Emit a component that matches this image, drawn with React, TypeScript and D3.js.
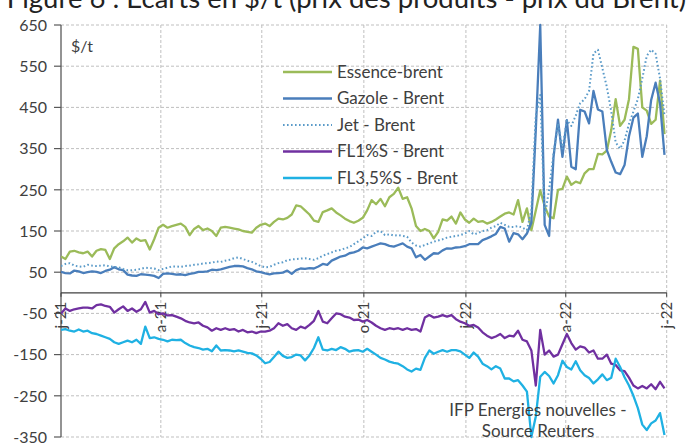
import React from "react";
import * as d3 from "d3";

// Product cracks vs Brent, $/t, one reading every 4 days from 1 Jan 2021
const START = Date.UTC(2021, 0, 1);
const STEP_DAYS = 4;
const DAY_MS = 86400000;

const essence = [
  88, 82, 100, 102, 98, 96, 100, 88, 102, 106, 104, 82, 108, 118, 125, 134, 122, 132, 126, 128, 105, 130, 158, 165, 158, 162, 165, 168, 160, 140, 155, 162, 152, 156, 150, 138, 158, 160, 158, 156, 154, 150, 148, 146, 158, 165,
  168, 162, 172, 180, 178, 182, 190, 212, 210, 200, 190, 175, 172, 196, 200, 205, 195, 188, 180, 174, 170, 175, 182, 200, 225, 215, 228, 210, 232, 240, 255, 228, 232, 205, 162, 150, 155, 150, 132, 148, 178, 175, 185, 168, 195, 178, 170,
  180, 172, 174, 168, 172, 178, 185, 192, 195, 190, 225, 172, 205, 152, 200, 249, 210, 185, 181, 250, 252, 282, 262, 270, 266, 290, 300, 300, 337, 336, 345, 395, 470, 405, 420, 470, 597, 592, 450, 442, 410, 420, 515, 385,
];

const gazole = [
  51, 48, 47, 54, 52, 48, 50, 52, 51, 48, 53, 56, 62, 57, 55, 44, 42, 41, 45, 44, 43, 41, 36, 46, 47, 46, 44, 45, 43, 46, 48, 51, 51, 52, 56, 55, 57, 60, 63, 65, 65, 64, 60, 57, 52, 50,
  47, 45, 47, 48, 49, 54, 46, 55, 59, 58, 60, 59, 64, 70, 68, 78, 83, 88, 90, 96, 98, 102, 110, 108, 112, 116, 120, 118, 114, 112, 116, 120, 112, 108, 86, 92, 80, 88, 96, 95, 103, 108, 107, 110, 111, 113, 118,
  118, 118, 128, 132, 137, 143, 160, 156, 124, 145, 142, 130, 144, 170, 395, 650, 165, 138, 330, 420, 330, 419, 306, 300, 444, 440, 411, 490, 445, 440, 347, 318, 292, 288, 310, 380, 425, 435, 330, 380, 468, 510, 460, 335,
];

const jet = [
  65, 70, 72, 66, 64, 63, 68, 66, 65, 66, 67, 64, 63, 62, 58, 55, 55, 56, 58, 61, 60, 59, 55, 58, 61, 64, 64, 63, 65, 66, 68, 69, 71, 72, 73, 76, 75, 78, 80, 84, 86, 82, 78, 75, 70, 65,
  62, 63, 68, 72, 74, 79, 81, 82, 83, 84, 82, 80, 84, 90, 94, 98, 102, 104, 108, 111, 118, 125, 132, 140, 138, 148, 150, 140, 142, 139, 140, 138, 136, 122, 115, 112, 116, 120, 124, 127, 130, 134, 136, 138, 140, 144, 150,
  142, 145, 150, 152, 158, 162, 170, 165, 160, 160, 162, 158, 152, 200, 430, 480, 185, 250, 338, 410, 350, 419, 405, 430, 460, 470, 490, 581, 590, 545, 500, 440, 365, 350, 370, 410, 440, 470, 520, 575, 590, 580, 520, 430,
];

const fl1 = [
  -50, -38, -44, -40, -38, -36, -36, -38, -30, -28, -32, -34, -48, -40, -33, -44, -38, -46, -40, -22, -48, -44, -52, -50, -55, -54, -58, -62, -68, -72, -74, -72, -80, -84, -92, -86, -90, -86, -90, -88, -94, -90, -96, -94, -98, -94,
  -94, -92, -86, -74, -80, -76, -86, -90, -82, -86, -78, -68, -44, -70, -74, -62, -50, -52, -58, -60, -66, -65, -70, -66, -72, -80, -86, -90, -86, -88, -86, -90, -86, -90, -88, -94, -60, -54, -60, -58, -54, -58, -54, -64, -70, -74, -80,
  -78, -84, -96, -104, -110, -106, -100, -110, -104, -106, -92, -114, -118, -140, -225, -90, -150, -140, -155, -150, -125, -100, -122, -138, -130, -133, -145, -140, -160, -160, -150, -172, -175, -188, -190, -206, -225, -232, -226, -232, -222, -234, -216, -232,
];

const fl35 = [
  -90, -88, -92, -94, -89, -94, -92, -98, -100, -104, -108, -112, -120, -124, -120, -116, -120, -114, -124, -82, -110, -108, -112, -114, -118, -114, -115, -114, -122, -128, -132, -134, -138, -136, -142, -128, -140, -139, -140, -142, -140, -143, -146, -147, -152, -160,
  -171, -168, -156, -143, -153, -158, -156, -150, -152, -164, -152, -134, -108, -138, -140, -136, -139, -132, -136, -143, -140, -139, -143, -136, -143, -150, -158, -162, -167, -170, -172, -178, -186, -191, -184, -187, -158, -140, -148, -143, -139, -143, -139, -139, -142, -150, -158,
  -145, -155, -172, -178, -186, -178, -184, -208, -208, -215, -212, -225, -240, -350, -300, -204, -192, -202, -220, -200, -165, -180, -186, -166, -188, -200, -207, -220, -210, -198, -212, -206, -160, -180, -205, -225, -250, -280, -320, -333, -317, -310, -292, -345,
];

const tickDates = [
  Date.UTC(2021, 0, 1), Date.UTC(2021, 3, 1), Date.UTC(2021, 6, 1), Date.UTC(2021, 9, 1),
  Date.UTC(2022, 0, 1), Date.UTC(2022, 3, 1), Date.UTC(2022, 6, 1),
];
const tickLabels = ["j-21", "a-21", "j-21", "o-21", "j-22", "a-22", "j-22"];
const yTicks = [-350, -250, -150, -50, 50, 150, 250, 350, 450, 550, 650];
const yGrid = [-350, -250, -150, -50, 50, 150, 250, 350, 450, 550, 650];

const seriesNames = ["Essence-brent", "Gazole - Brent", "Jet - Brent", "FL1%S - Brent", "FL3,5%S - Brent"];
const seriesColors = ["#9bbb59", "#4a7ebb", "#5b9bc9", "#7030a0", "#1fb1e3"];
const seriesData = [essence, gazole, jet, fl1, fl35];
const seriesDash = [null, null, "1.6 2.4", null, null];

const W = 689;
const H = 446;
const FONT = "Lato, 'Open Sans', sans-serif";
const TEXT = "#404040";

export default function App() {
  const x = d3.scaleUtc().domain([new Date(tickDates[0]), new Date(tickDates[6])]).range([61, 666.7]);
  const y = d3.scaleLinear().domain([-350, 650]).range([437, 25]);
  const dateAt = (i: number) => new Date(START + i * STEP_DAYS * DAY_MS);

  const line = d3
    .line<number>()
    .x((_, i) => x(dateAt(i)))
    .y((d) => y(d));

  const [x0, x1] = x.range();
  const yTop = y(650);
  const yBot = y(-350);
  const y0 = y(0);

  return (
    <svg
      width={W}
      height={H}
      viewBox={`0 0 ${W} ${H}`}
      style={{ position: "absolute", left: 0, top: 0, display: "block", background: "#fff" }}
      fontFamily={FONT}
    >
      <defs>
        <clipPath id="plot-clip">
          <rect x={x0} y={yTop - 2} width={x1 - x0 + 2} height={yBot - yTop + 4} />
        </clipPath>
      </defs>

      <text x={686} y={8} textAnchor="end" fontSize={27.5} fill="#222">
        Figure 6 : Ecarts en $/t (prix des produits - prix du Brent)
      </text>

      {/* gridlines */}
      <g stroke="#bfbfbf" strokeWidth={1} strokeDasharray="3 2" fill="none">
        {yGrid.map((v) => (
          <line key={`h${v}`} x1={x0} x2={x1} y1={y(v)} y2={y(v)} />
        ))}
        {tickDates.slice(1).map((d) => (
          <line key={`v${d}`} x1={x(new Date(d))} x2={x(new Date(d))} y1={yTop} y2={yBot} />
        ))}
      </g>

      {/* y axis */}
      <line x1={x0} x2={x0} y1={yTop} y2={yBot} stroke="#595959" strokeWidth={1.3} />
      {yTicks.map((v) => (
        <g key={`yt${v}`}>
          <line x1={x0 - 7} x2={x0} y1={y(v)} y2={y(v)} stroke="#595959" strokeWidth={1.2} />
          <text x={x0 - 14} y={y(v)} dy="0.36em" textAnchor="end" fontSize={16} fill={TEXT}>
            {v}
          </text>
        </g>
      ))}

      {/* x axis at zero */}
      <line x1={x0} x2={x1} y1={y0} y2={y0} stroke="#404040" strokeWidth={1.3} />
      {tickDates.map((d) => (
        <line key={`xt${d}`} x1={x(new Date(d))} x2={x(new Date(d))} y1={y0} y2={y0 + 4} stroke="#404040" strokeWidth={1} />
      ))}
      {tickDates.map((d, i) => (
        <text
          key={`xl${d}`}
          transform={`translate(${x(new Date(d))},${y0 + 9}) rotate(-90)`}
          dy="0.35em"
          textAnchor="end"
          fontSize={15}
          fill={TEXT}
        >
          {tickLabels[i]}
        </text>
      ))}

      <text x={71} y={52} fontSize={16} fill={TEXT}>
        $/t
      </text>

      {/* series */}
      <g clipPath="url(#plot-clip)" fill="none" strokeLinejoin="round">
        {seriesData.map((data, k) => (
          <path
            key={seriesNames[k]}
            d={line(data) ?? ""}
            stroke={seriesColors[k]}
            strokeWidth={seriesDash[k] ? 2 : 2.3}
            strokeDasharray={seriesDash[k] ?? undefined}
          />
        ))}
      </g>

      {/* legend */}
      {seriesNames.map((name, k) => {
        const ly = 72 + k * 26.5;
        return (
          <g key={`lg${name}`}>
            <line
              x1={283}
              x2={332}
              y1={ly}
              y2={ly}
              stroke={seriesColors[k]}
              strokeWidth={seriesDash[k] ? 2 : 2.3}
              strokeDasharray={seriesDash[k] ?? undefined}
            />
            <text x={337} y={ly} dy="0.35em" fontSize={17} fill={TEXT}>
              {name}
            </text>
          </g>
        );
      })}

      <text x={538} y={416} textAnchor="middle" fontSize={17} fill={TEXT}>
        IFP Energies nouvelles -
      </text>
      <text x={538} y={437} textAnchor="middle" fontSize={17} fill={TEXT}>
        Source Reuters
      </text>
    </svg>
  );
}
